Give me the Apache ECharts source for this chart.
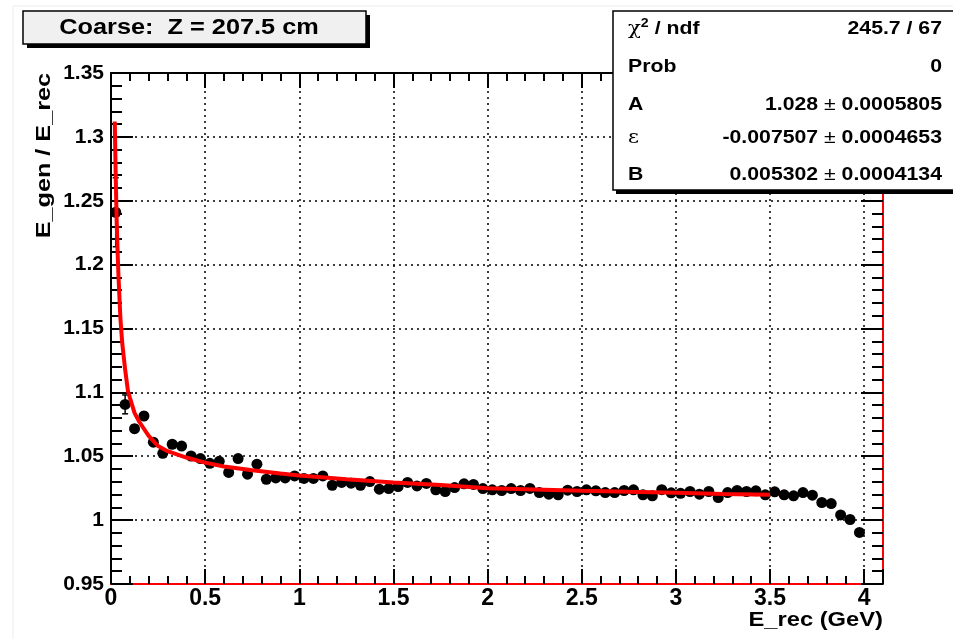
<!DOCTYPE html>
<html><head><meta charset="utf-8">
<script src="https://cdn.jsdelivr.net/npm/echarts@6/dist/echarts.min.js"></script>
<style>html,body{margin:0;padding:0;background:#fff}#c{width:953px;height:639px}</style>
</head><body><div id="c"></div>
<script>
// ---- data ----
const xBins = [0.025,0.075,0.125,0.175,0.225,0.275,0.325,0.375,0.425,0.475,
  0.525,0.575,0.625,0.675,0.725,0.775,0.825,0.875,0.925,0.975,
  1.025,1.075,1.125,1.175,1.225,1.275,1.325,1.375,1.425,1.475,
  1.525,1.575,1.625,1.675,1.725,1.775,1.825,1.875,1.925,1.975,
  2.025,2.075,2.125,2.175,2.225,2.275,2.325,2.375,2.425,2.475,
  2.525,2.575,2.625,2.675,2.725,2.775,2.825,2.875,2.925,2.975,
  3.025,3.075,3.125,3.175,3.225,3.275,3.325,3.375,3.425,3.475,
  3.525,3.575,3.625,3.675,3.725,3.775,3.825,3.875,3.925,3.975];
const ratio = [1.241,1.0906,1.0716,1.0815,1.061,1.0523,1.0594,1.058,1.0502,1.0482,
  1.0445,1.046,1.0373,1.0482,1.036,1.0438,1.032,1.033,1.033,1.0346,
  1.0326,1.0326,1.0346,1.0273,1.0295,1.0289,1.0273,1.0302,1.0242,1.0247,
  1.0263,1.0295,1.0268,1.0287,1.0237,1.0224,1.0255,1.0284,1.0279,1.0247,
  1.0237,1.0232,1.0247,1.0232,1.0248,1.0216,1.0203,1.0198,1.0234,1.0224,
  1.0237,1.0229,1.0216,1.0216,1.0232,1.0237,1.0198,1.019,1.0238,1.0214,
  1.021,1.0224,1.0203,1.0224,1.0177,1.0216,1.0232,1.0224,1.0229,1.0198,
  1.0222,1.0198,1.019,1.0216,1.0195,1.0138,1.013,1.0041,1.0005,0.9904];
const ratioErr = [0.027,0.0074,0.003,0.003,0.0025,0.002,0.002,0.002,0.0018,0.0018];
const fitX = [0.02,0.025,0.03,0.035,0.04,0.05,0.06,0.075,0.09,0.1,0.125,0.15,0.2,0.25,0.3,0.4,0.5,0.6,0.75,0.9,1.0,1.25,1.5,1.75,2.0,2.25,2.5,2.75,3.0,3.25,3.5];
const fitY = [1.312,1.27,1.235,1.21,1.19,1.158,1.138,1.118,1.101,1.096,1.084,1.077,1.066,1.058,1.054,1.049,1.045,1.042,1.039,1.0365,1.035,1.032,1.0295,1.0275,1.025,1.024,1.023,1.0222,1.0215,1.0205,1.0198];
const xTicks = {min:0, max:4.1, interval:0.5};
const yTicks = {min:0.95, max:1.35, interval:0.05};
const titleText = 'Coarse:  Z = 207.5 cm';
const statsRows = [
  ['chi', '245.7 / 67'],
  ['Prob', '0'],
  ['A', '1.028', '0.0005805'],
  ['eps', '-0.007507', '0.0004653'],
  ['B', '0.005302', '0.0004134']
];

const FONT = '"Liberation Sans", Arial, Helvetica, sans-serif';
const chart = echarts.init(document.getElementById('c'));

const pts = xBins.map((x,i)=>[x, ratio[i]]);
const errPts = ratioErr.map((e,i)=>[xBins[i], ratio[i], e]);
const fitPts = fitX.map((x,i)=>[x, fitY[i]]);

function yFmt(v){ return (Math.round(v*100000)/100000).toString(); }

const grid = {left:111, top:73, right:70, bottom:55, containLabel:false};

const statsGraphics = [];
const rowY = [29, 67, 105, 138, 175];
const SX = 1.18;
statsRows.forEach((r,i)=>{
  let leftText;
  if (r[0]==='chi') leftText = '{g|χ}{sup|2}{b| / ndf}';
  else if (r[0]==='eps') leftText = '{g|ε}';
  else leftText = '{b|'+r[0]+'}';
  statsGraphics.push({type:'text', z:110, x:628, y:rowY[i], scaleX:SX,
    style:{text:leftText, verticalAlign:'middle', rich:{
      b:{font:'bold 18px '+FONT, fill:'#000'},
      g:{font:'18px "DejaVu Serif", serif', fill:'#000'},
      sup:{font:'bold 12px '+FONT, fill:'#000', verticalAlign:'top', padding:[0,0,10,0]}
    }}});
  let rightText = r.length===2 ? '{b|'+r[1]+'}' : '{b|'+r[1]+'}{p| ± }{b|'+r[2]+'}';
  statsGraphics.push({type:'text', z:110, x:942, y:rowY[i], scaleX:SX,
    style:{text:rightText, align:'right', verticalAlign:'middle', rich:{
      b:{font:'bold 18px '+FONT, fill:'#000'},
      p:{font:'18px '+FONT, fill:'#000'}
    }}});
});

const option = {
  animation:false,
  backgroundColor:'#fff',
  grid: grid,
  xAxis: [{
    type:'value', min:xTicks.min, max:xTicks.max, interval:xTicks.interval, position:'bottom',
    axisLine:{show:true, onZero:false, lineStyle:{color:'#ff0000', width:2}},
    axisTick:{show:true, inside:true, length:15, lineStyle:{color:'#000', width:2}},
    minorTick:{show:true, splitNumber:5, length:8, lineStyle:{color:'#000', width:2}},
    axisLabel:{color:'#000', fontFamily:FONT, fontWeight:'bold', fontSize:23, margin:3,
      formatter:v=> v>4.01?'':yFmt(v), showMaxLabel:false},
    splitLine:{show:true, lineStyle:{color:'#000', type:[2,4], width:1.5}}
  },{
    type:'value', min:xTicks.min, max:xTicks.max, interval:xTicks.interval, position:'top',
    axisLine:{show:true, onZero:false, lineStyle:{color:'#000', width:2}},
    axisTick:{show:true, inside:true, length:15, lineStyle:{color:'#000', width:2}},
    minorTick:{show:true, splitNumber:5, length:8, lineStyle:{color:'#000', width:2}},
    axisLabel:{show:false}, splitLine:{show:false}
  }],
  yAxis: [{
    type:'value', min:yTicks.min, max:yTicks.max, interval:yTicks.interval, position:'left',
    axisLine:{show:true, onZero:false, lineStyle:{color:'#000', width:2}},
    axisTick:{show:true, inside:true, length:22, lineStyle:{color:'#000', width:2}},
    minorTick:{show:true, splitNumber:5, length:11, lineStyle:{color:'#000', width:2}},
    axisLabel:{color:'#000', fontFamily:FONT, fontWeight:'bold', fontSize:21, margin:7, formatter:yFmt},
    splitLine:{show:true, lineStyle:{color:'#000', type:[2,4], width:1.5}}
  },{
    type:'value', min:yTicks.min, max:yTicks.max, interval:yTicks.interval, position:'right',
    axisLine:{show:true, onZero:false, lineStyle:{color:'#ff0000', width:2}},
    axisTick:{show:true, inside:true, length:22, lineStyle:{color:'#000', width:2}},
    minorTick:{show:true, splitNumber:5, length:11, lineStyle:{color:'#000', width:2}},
    axisLabel:{show:false}, splitLine:{show:false}
  }],
  series: [
    {type:'custom', xAxisIndex:0, yAxisIndex:0, z:3, data:errPts,
      renderItem:(params, api)=>{
        const x=api.value(0), y=api.value(1), e=api.value(2);
        const p1=api.coord([x,y+e]), p2=api.coord([x,y-e]);
        return {type:'group', children:[
          {type:'line', shape:{x1:p1[0],y1:p1[1],x2:p2[0],y2:p2[1]}, style:{stroke:'#000', lineWidth:1.5}},
          {type:'line', shape:{x1:p1[0]-3,y1:p1[1],x2:p1[0]+3,y2:p1[1]}, style:{stroke:'#000', lineWidth:1.5}},
          {type:'line', shape:{x1:p2[0]-3,y1:p2[1],x2:p2[0]+3,y2:p2[1]}, style:{stroke:'#000', lineWidth:1.5}}
        ]};
      }},
    {type:'scatter', data:pts, symbol:'circle', symbolSize:11, z:4,
      itemStyle:{color:'#000', opacity:1}},
    {type:'line', data:fitPts, showSymbol:false, smooth:false, z:5,
      lineStyle:{color:'#ff0000', width:4}}
  ],
  graphic: [
    {type:'rect', z:100, shape:{x:13, y:6, width:960, height:640}, style:{fill:'none', stroke:'#ececec', lineWidth:1}},
    // title box
    {type:'rect', z:100, shape:{x:27, y:15, width:343, height:33}, style:{fill:'#000'}},
    {type:'rect', z:101, shape:{x:23, y:11, width:343, height:33}, style:{fill:'#f0f0f0', stroke:'#000', lineWidth:1.5}},
    {type:'text', z:102, x:189, y:28, scaleX:1.15,
      style:{text:titleText, font:'bold 22px '+FONT, fill:'#000', align:'center', verticalAlign:'middle'}},
    // stats box
    {type:'rect', z:100, shape:{x:616, y:15, width:400, height:179}, style:{fill:'#000'}},
    {type:'rect', z:101, shape:{x:613, y:11, width:400, height:179}, style:{fill:'#fff', stroke:'#000', lineWidth:1.5}},
    ...statsGraphics,
    // axis titles
    {type:'text', z:110, x:34, y:73, rotation:Math.PI/2, scaleX:1.2,
      style:{text:'E_gen / E_rec', font:'bold 21px '+FONT, fill:'#000', align:'right', verticalAlign:'top'}},
    {type:'text', z:110, x:883, y:610, scaleX:1.13,
      style:{text:'E_rec (GeV)', font:'bold 21px '+FONT, fill:'#000', align:'right', verticalAlign:'top'}}
  ]
};
chart.setOption(option);
</script>
</body></html>
